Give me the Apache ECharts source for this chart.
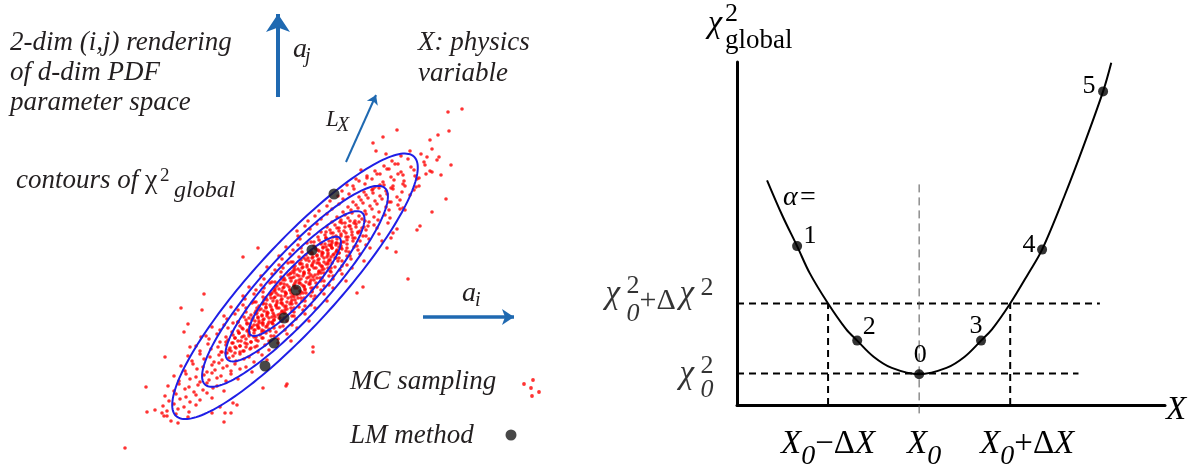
<!DOCTYPE html>
<html><head><meta charset="utf-8">
<script src="https://cdn.jsdelivr.net/npm/echarts@6/dist/echarts.min.js"></script>
<style>html,body{margin:0;padding:0;background:#fff}#c{width:1199px;height:473px}</style>
</head><body><div id="c"></div>
<script>
// ---------- Left panel: 2-dim (i,j) parameter space (units: a_i right, a_j down-inverted) ----------
const mcSamples = [
[410,151],[432,149],[401,156],[421,154],[439,157],[392,161],[408,159],[424,162],[384,166],[398,164],[411,167],[425,165],[375,171],[389,169],[401,172],[414,170],[430,171],[367,176],[380,174],[391,177],[403,175],[415,176],[359,181],[372,179],[383,182],[394,180],[404,181],[417,179],[353,186],[365,184],[375,187],[384,185],[393,186],[403,184],[416,187],
[342,191],[354,189],[364,192],[372,190],[379,188],[386,191],[393,189],[402,192],[414,190],
[338,196],[349,194],[359,197],[366,195],[373,193],[380,196],[387,194],[397,197],[410,195],
[330,201],[343,199],[353,202],[361,200],[368,198],[375,201],[382,199],[389,202],[400,200],
[327,206],[339,204],[348,207],[356,205],[363,203],[370,206],[377,204],[386,207],[398,205],
[319,211],[332,209],[343,212],[351,210],[358,208],[365,211],[372,209],[379,212],[389,210],[403,208],
[315,216],[327,214],[337,217],[345,215],[352,213],[359,216],[366,214],[374,217],[385,215],
[308,221],[321,219],[332,222],[341,220],[348,218],[355,221],[362,219],[369,222],[378,220],[390,218],
[305,226],[317,224],[327,227],[335,225],[342,223],[349,226],[356,224],[364,227],[374,225],[388,223],
[297,231],[310,229],[321,232],[330,230],[337,228],[344,231],[351,229],[358,232],[366,230],[377,228],
[298,236],[309,234],[318,237],[325,235],[331,233],[336,236],[341,234],[346,237],[352,235],[358,233],[366,236],[379,234],
[300,239],[311,242],[319,240],[326,238],[332,241],[337,239],[342,242],[347,240],[353,238],[360,241],[369,239],[382,241],
[286,247],[298,245],[307,243],[314,246],[321,244],[326,247],[331,245],[336,243],[341,246],[347,244],[354,247],[366,245],
[293,250],[301,248],[311,251],[316,249],[322,252],[327,250],[332,248],[337,251],[342,249],[349,252],[358,250],[370,248],
[279,256],[290,254],[299,257],[306,255],[312,253],[317,256],[322,254],[327,257],[333,255],[339,253],[347,256],[360,254],
[282,259],[293,262],[301,260],[308,258],[314,261],[319,259],[324,262],[329,260],[335,258],[342,261],[351,259],[364,261],
[267,267],[279,265],[288,263],[295,266],[302,264],[307,267],[312,265],[317,263],[322,266],[328,264],[335,267],[347,265],
[275,270],[283,268],[293,271],[298,269],[304,272],[309,270],[314,268],[319,271],[324,269],[331,272],[340,270],[352,268],
[261,276],[272,274],[281,277],[288,275],[294,273],[299,276],[304,274],[309,277],[315,275],[321,273],[329,276],[342,274],
[264,279],[275,282],[283,280],[290,278],[296,281],[301,279],[306,282],[311,280],[317,278],[324,281],[333,279],[346,281],
[249,287],[261,285],[270,283],[277,286],[284,284],[289,287],[294,285],[299,283],[304,286],[310,284],[317,287],[329,285],
[256,290],[264,288],[274,291],[279,289],[285,292],[290,290],[295,288],[300,291],[305,289],[312,292],[321,290],[333,288],
[243,296],[254,294],[263,297],[270,295],[276,293],[281,296],[286,294],[291,297],[297,295],[303,293],[311,296],[324,294],
[245,299],[256,302],[264,300],[271,298],[277,301],[282,299],[287,302],[292,300],[298,298],[305,301],[314,299],[327,301],
[231,307],[243,305],[252,303],[259,306],[266,304],[271,307],[276,305],[281,303],[286,306],[292,304],[299,307],[311,305],
[238,310],[246,308],[256,311],[261,309],[267,312],[272,310],[277,308],[282,311],[287,309],[294,312],[303,310],[315,308],
[224,316],[235,314],[244,317],[251,315],[257,313],[262,316],[267,314],[272,317],[278,315],[284,313],[292,316],[305,314],
[227,319],[238,322],[246,320],[253,318],[259,321],[264,319],[269,322],[274,320],[280,318],[287,321],[296,319],[309,321],
[212,327],[224,325],[233,323],[240,326],[247,324],[252,327],[257,325],[262,323],[267,326],[273,324],[280,327],[292,325],
[220,330],[228,328],[238,331],[243,329],[249,332],[254,330],[259,328],[264,331],[269,329],[276,332],[285,330],[297,328],
[206,336],[217,334],[226,337],[233,335],[239,333],[244,336],[249,334],[254,337],[260,335],[266,333],[274,336],[287,334],
[209,339],[220,342],[228,340],[235,338],[241,341],[246,339],[251,342],[256,340],[262,338],[269,341],[278,339],[291,341],
[340,222],[345,223],[350,221],[354,223],[359,222],[365,221],
[339,228],[345,227],[350,226],[356,227],[362,228],[368,226],
[326,232],[333,233],[339,231],[346,233],[352,232],[360,231],
[326,238],[333,237],[341,236],[348,237],[355,238],[363,236],
[314,242],[321,243],[329,241],[337,243],[344,242],[353,241],
[315,248],[323,247],[331,246],[339,247],[347,248],[357,246],
[302,252],[311,253],[319,251],[328,253],[336,252],[346,251],
[304,258],[313,257],[322,256],[331,257],[339,258],[350,256],
[291,262],[300,263],[309,261],[319,263],[328,262],[338,261],
[294,268],[303,267],[312,266],[322,267],[331,268],[342,266],
[281,272],[291,273],[300,271],[309,273],[319,272],[330,271],
[284,278],[294,277],[303,276],[313,277],[322,278],[333,276],
[272,282],[281,283],[291,281],[300,283],[310,282],[321,281],
[275,288],[284,287],[294,286],[304,287],[313,288],[324,286],
[263,292],[272,293],[282,291],[291,293],[301,292],[312,291],
[266,298],[275,297],[285,296],[294,297],[304,298],[315,296],
[254,302],[263,303],[273,301],[282,303],[291,302],[302,301],
[257,308],[266,307],[276,306],[285,307],[294,308],[305,306],
[246,312],[255,313],[264,311],[273,313],[282,312],[292,311],
[249,318],[258,317],[267,316],[275,317],[284,318],[294,316],
[238,322],[247,323],[255,321],[263,323],[272,322],[282,321],
[242,328],[250,327],[258,326],[266,327],[274,328],[283,326],
[232,332],[239,333],[247,331],[254,333],[262,332],[270,331],
[235,338],[242,337],[249,336],[256,337],[263,338],[271,336],
[226,342],[232,343],[238,341],[245,343],[251,342],[258,341],
[230,348],[235,347],[240,346],[246,347],[251,348],[257,346],
[222,352],[227,353],[231,351],[235,353],[240,352],[244,351],
[325,244],[329,245],[332,243],[336,245],[340,244],
[318,250],[323,248],[328,250],[332,248],[337,250],[341,248],
[312,254],[317,255],[323,253],[328,255],[334,254],[339,253],
[306,260],[312,258],[318,260],[324,258],[330,260],[336,258],
[300,264],[307,265],[313,263],[320,265],[326,264],[332,263],
[295,270],[302,268],[309,270],[316,268],[322,270],[328,268],
[290,274],[297,275],[304,273],[311,275],[318,274],[324,273],
[285,280],[292,278],[299,280],[307,278],[314,280],[320,278],
[280,284],[287,285],[295,283],[302,285],[309,284],[316,283],
[275,290],[283,288],[290,290],[297,288],[305,290],[311,288],
[271,294],[278,295],[286,293],[293,295],[300,294],[306,293],
[267,300],[274,298],[281,300],[288,298],[295,300],[301,298],
[263,304],[270,305],[277,303],[283,305],[290,304],[296,303],
[259,310],[266,308],[272,310],[279,308],[285,310],[291,308],
[256,314],[262,315],[268,313],[274,315],[280,314],[285,313],
[252,320],[258,318],[263,320],[269,318],[274,320],[279,318],
[250,324],[254,325],[259,323],[263,325],[268,324],[272,323],
[248,330],[251,328],[255,330],[258,328],[262,330],
[196,346],[208,344],[218,347],[226,345],[233,343],[240,346],[247,344],[255,347],[265,345],[278,343],
[200,351],[211,349],[221,352],[229,350],[236,348],[243,351],[250,349],[258,352],[269,350],
[188,356],[200,354],[210,357],[219,355],[226,353],[233,356],[240,354],[249,357],[262,355],
[192,361],[204,359],[214,362],[222,360],[229,358],[236,361],[244,359],[254,362],[267,360],
[181,366],[193,364],[203,367],[212,365],[219,363],[227,366],[235,364],[246,367],
[185,371],[197,369],[207,372],[215,370],[223,368],[231,371],[240,369],[252,372],
[174,376],[186,374],[196,377],[204,375],[212,373],[221,376],[231,374],
[179,381],[190,379],[200,382],[209,380],[217,378],[226,381],[238,379],
[168,386],[179,384],[189,387],[198,385],[207,383],[217,386],
[174,391],[185,389],[194,392],[203,390],[213,388],[224,391],
[165,396],[176,394],[186,397],[196,395],[207,393],
[169,401],[180,399],[190,402],[200,400],[212,398],
[163,406],[174,404],[184,407],[196,405],
[167,411],[178,409],[189,412],
[164,416],[176,414],[188,417],[171,421],
[462,109],[448,112],[397,130],[449,131],[438,135],[383,137],[430,140],[373,143],[376,151],[386,154],[427,157],[437,160],[451,165],[395,164],[361,170],[387,169],[377,174],[398,174],[432,172],[426,174],[441,175],[419,178],[367,178],[356,179],[380,185],[405,186],[419,186],[373,189],[391,188],[347,185],[446,199],[391,202],[432,212],[400,209],[405,210],[417,230],[420,226],[396,252],[387,248],[397,229],[393,233],[391,238],[408,279],[363,287],[357,293],[313,347],[313,352],[243,257],[258,248],
[125,448],[146,387],[147,412],[155,410],[162,413],[167,416],[178,423],[165,357],[181,308],[204,294],[202,310],[188,324],[184,332],[190,347],[201,337],[224,422],[212,413],[220,407],[233,403],[237,405],[231,413],[225,413],[263,388],[286,386],[287,384]
];
const lmPoints = [[334,194],[312,250],[296,290],[284,318],[274,343],[265,366]];
// contour ellipses: [centre a_i, centre a_j, semi-major, semi-minor, tilt in degrees]
const contourEllipses = [
  [295,286.3,176,41.5,47.5],
  [295,286.3,133.2,31.4,47.5],
  [295,286.3,99.6,23.5,47.5],
  [295,286.3,65.8,15.5,47.5]
];
const mcLegendDots = [[524,384],[533,380],[531,388],[532,396],[539,392]];
const lmLegendDot = [[511,435]];
const arrowAj = [[278,97],[278,14]];
const arrowAi = [[423,317],[514,317]];
const arrowLx = [[346,162],[376,95]];

// ---------- Right panel: chi^2 vs X ----------
const curveX = [-1.67,-1.5,-1.34,-1.2,-1.0,-0.8,-0.68,-0.5,-0.3,0,0.3,0.5,0.68,0.8,1.0,1.2,1.35,1.6,1.8,2.02,2.11];
const curveY = [3.21,2.70,2.27,1.88,1.45,1.08,0.92,0.69,0.53,0.44,0.53,0.69,0.92,1.08,1.45,1.88,2.22,3.00,3.68,4.48,4.89];
const alphaLabels = ['0','1','2','3','4','5'];
const alphaX = [0,-1.34,-0.68,0.68,1.35,2.02];
const alphaY = [0.44,2.27,0.92,0.92,2.22,4.48];
const chi2Min = 0.45;
const chi2Up = 1.45;
const deltaX = 1.0;
const xTickValues = [-1,0,1];
const xTickNames = ['minus','center','plus'];
const yTickValues = [0.45,1.45];
const yTickNames = ['min','up'];

const SERIF = '"Liberation Serif","Times New Roman",serif';
const chart = echarts.init(document.getElementById('c'));

const alphaOffsets = {'0':[1,-19],'1':[13,-10],'2':[12,-13],'3':[-5,-14],'4':[-13,-4],'5':[-14,-5]};
const alphaData = alphaX.map((x,i)=>({value:[x,alphaY[i]],
  label:{show:true, formatter:alphaLabels[i], position:[5,5], align:'center', verticalAlign:'middle',
    offset:alphaOffsets[alphaLabels[i]], color:'#000', fontFamily:SERIF, fontSize:26, textBorderWidth:0, opacity:1}}));

function dashed(coords, width, dash, color){
  return {type:'line', xAxisIndex:1, yAxisIndex:1, data:coords, showSymbol:false, symbol:'none', clip:false, silent:true,
    lineStyle:{color:color||'#000', width:width, type:dash}, z:3};
}
function arrow(coords, width, size){
  return {type:'lines', coordinateSystem:'cartesian2d', xAxisIndex:0, yAxisIndex:0, silent:true, z:6,
    symbol:['none','arrow'], symbolSize:size,
    lineStyle:{color:'#1f69b1', width:width, opacity:1, curveness:0},
    data:[{coords:coords}]};
}
function txt(x,y,text,size,italic,color){
  return {type:'text', x:x, y:y, silent:true, z:10,
    style:{text:text, font:(italic?'italic ':'')+size+'px '+SERIF, fill:color||'#231f20',
      textAlign:'left', align:'left', textVerticalAlign:'middle', verticalAlign:'middle'}};
}

const xRich = {
  X:{fontFamily:SERIF,fontStyle:'italic',fontSize:33,color:'#000',align:'left',verticalAlign:'top',lineHeight:60,height:68},
  s:{fontFamily:SERIF,fontStyle:'italic',fontSize:28,color:'#000',align:'left',verticalAlign:'top',lineHeight:60,height:94},
  op:{fontFamily:SERIF,fontSize:33,color:'#000',align:'left',verticalAlign:'top',lineHeight:60,height:68},
  pad1:{width:10,align:'left',lineHeight:60,fontSize:10},
  pad2:{width:34,align:'left',lineHeight:60,fontSize:10}
};
const yBase = {fontFamily:SERIF,color:'#000',align:'left',verticalAlign:'top',lineHeight:56,textBorderWidth:0};
const yRich = {
  c1:Object.assign({},yBase,{fontStyle:'italic',fontSize:33,height:39,width:21}),
  p1:Object.assign({},yBase,{fontSize:26,height:22}),
  s1:Object.assign({},yBase,{fontStyle:'italic',fontSize:26,height:79,width:0}),
  o1:Object.assign({},yBase,{fontSize:30,height:52,width:40}),
  q1:Object.assign({},yBase,{fontSize:26,height:27}),
  c2:Object.assign({},yBase,{fontStyle:'italic',fontSize:33,height:58,width:21}),
  p2:Object.assign({},yBase,{fontSize:26,height:42}),
  s2:Object.assign({},yBase,{fontStyle:'italic',fontSize:26,height:90,width:0})
};
const xFmt = {minus:'{X|X}{s|0}{op|−Δ}{X|X}', center:'{pad1| }{X|X}{s|0}', plus:'{pad2| }{X|X}{s|0}{op|+Δ}{X|X}'};
const yFmt = {min:'{c2|χ}{s2|0}{p2|2}', up:'{c1|χ}{s1|0}{p1|2}{o1|+Δ}{c1|χ}{q1|2}'};
const yLabelData = yTickValues.map((v,i)=>({value:[-2,v], label:{formatter:yFmt[yTickNames[i]]}}));

const option = {
  animation:false,
  backgroundColor:'#fff',
  grid:[
    {left:0, top:0, width:600, height:473, show:false, containLabel:false, outerBoundsMode:'none'},
    {left:737, top:62, width:428, height:343, show:false, containLabel:false, outerBoundsMode:'none'}
  ],
  xAxis:[
    {gridIndex:0, type:'value', min:0, max:600, show:false},
    {gridIndex:1, type:'value', min:-2, max:2.7,
      axisLine:{show:true, onZero:false, lineStyle:{color:'#000', width:3}},
      axisTick:{show:false}, splitLine:{show:false},
      axisLabel:{show:true, customValues:xTickValues, margin:5, showMinLabel:true, showMaxLabel:true, hideOverlap:false,
        formatter:function(v){const i=xTickValues.findIndex(t=>Math.abs(t-v)<1e-6); return i<0?'':xFmt[xTickNames[i]];},
        rich:xRich}}
  ],
  yAxis:[
    {gridIndex:0, type:'value', min:0, max:473, inverse:true, show:false},
    {gridIndex:1, type:'value', min:0, max:4.9,
      axisLine:{show:true, onZero:false, lineStyle:{color:'#000', width:3}},
      axisTick:{show:false}, splitLine:{show:false}, axisLabel:{show:false}}
  ],
  series:[
    {type:'scatter', xAxisIndex:0, yAxisIndex:0, data:mcSamples, symbol:'circle', symbolSize:3.6,
      itemStyle:{color:'#ff0000'}, silent:true, z:2},
    {type:'custom', xAxisIndex:0, yAxisIndex:0, data:contourEllipses, silent:true, z:3,
      encode:{x:0,y:1},
      renderItem:function(params, api){
        const cx=api.value(0), cy=api.value(1), a=api.value(2), b=api.value(3), ang=api.value(4)*Math.PI/180;
        const pts=[];
        for(let k=0;k<=180;k++){
          const t=k/180*2*Math.PI, du=a*Math.cos(t), dv=b*Math.sin(t);
          const dx=du*Math.cos(ang)+dv*Math.sin(ang);
          const dyUp=du*Math.sin(ang)-dv*Math.cos(ang);
          pts.push(api.coord([cx+dx, cy-dyUp]));
        }
        return {type:'polyline', shape:{points:pts}, style:{stroke:'#1f1fe6', lineWidth:2, fill:null}};
      }},
    {type:'scatter', xAxisIndex:0, yAxisIndex:0, data:lmPoints, symbolSize:11, itemStyle:{color:'#1a1a1a'}, silent:true, z:5},
    {type:'scatter', xAxisIndex:0, yAxisIndex:0, data:mcLegendDots, symbolSize:3.8, itemStyle:{color:'#ff0000'}, silent:true, z:5},
    {type:'scatter', xAxisIndex:0, yAxisIndex:0, data:lmLegendDot, symbolSize:11, itemStyle:{color:'#1a1a1a'}, silent:true, z:5},
    arrow(arrowAj, 4, 18),
    arrow(arrowAi, 3.5, 12),
    arrow(arrowLx, 2, 9),
    // right panel
    {type:'line', xAxisIndex:1, yAxisIndex:1, data:curveX.map((x,i)=>[x,curveY[i]]), smooth:0.35, showSymbol:false, symbol:'none',
      clip:false, silent:true, lineStyle:{color:'#000', width:2}, z:4},
    dashed([[-2,chi2Up],[1.985,chi2Up]], 2, [7,5]),
    dashed([[-2,chi2Min],[1.75,chi2Min]], 2, [7,5]),
    dashed([[-deltaX,0],[-deltaX,chi2Up]], 2, [7,5]),
    dashed([[deltaX,0],[deltaX,chi2Up]], 2, [7,5]),
    dashed([[0,-0.12],[0,3.19]], 1, [8,5], '#555'),
    {type:'scatter', xAxisIndex:1, yAxisIndex:1, data:alphaData, symbolSize:10, itemStyle:{color:'#000'}, silent:true, z:6,
      label:{show:true, color:'#000', fontFamily:SERIF, fontSize:26}},
    {type:'scatter', xAxisIndex:1, yAxisIndex:1, data:yLabelData, symbolSize:1, silent:true, z:7, clip:false,
      itemStyle:{color:'rgba(0,0,0,0)'},
      label:{show:true, position:[-23,0], align:'right', verticalAlign:'middle', rich:yRich, color:'#000', textBorderWidth:0},
      labelLayout:{hideOverlap:false}}
  ],
  graphic:[
    txt(10,43,'2-dim (i,j) rendering',27,true),
    txt(10,73,'of d-dim PDF',27,true),
    txt(10,103,'parameter space',27,true),
    txt(418,43,'X: physics',27,true),
    txt(418,74,'variable',27,true),
    txt(16,181,'contours of',27,true),
    txt(145,181,'χ',28,false),
    txt(160,176,'2',19,false),
    txt(174,191,'global',24,true),
    txt(293,50,'a',28,true),
    txt(305,57,'j',20,true),
    txt(462,294,'a',28,true),
    txt(475,301,'i',20,true),
    txt(326,120,'L',23,true),
    txt(337,126,'X',20,true),
    txt(350,382,'MC sampling',27,true),
    txt(350,436,'LM method',27,true),
    txt(708,24,'χ',32,true,'#000'),
    txt(725,14,'2',26,false,'#000'),
    txt(725,41,'global',27,false,'#000'),
    txt(783,198,'α',28,true,'#000'),
    txt(800,198,'=',28,false,'#000'),
    txt(1166,410,'X',33,true,'#000')
  ]
};
chart.setOption(option);
</script></body></html>
